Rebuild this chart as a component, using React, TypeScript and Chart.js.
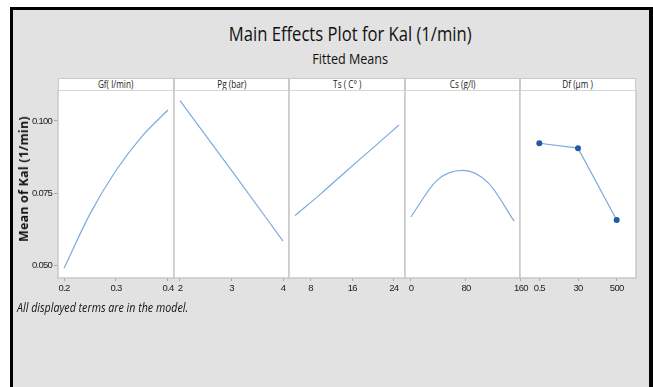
import React, { useEffect, useRef } from "react";
import { Chart, registerables } from "chart.js";

Chart.register(...registerables);

// Fitted means for each factor (response: Kal, 1/min)
const gfX = [0.2, 0.25, 0.3, 0.35, 0.4];
const gfY = [0.0491, 0.0679, 0.0829, 0.0947, 0.1038];
const gfTicks = [0.2, 0.3, 0.4];

const pgX = [2, 3, 4];
const pgY = [0.107, 0.0829, 0.0585];
const pgTicks = [2, 3, 4];

const tsX = [5, 10, 15, 20, 25];
const tsY = [0.0673, 0.0749, 0.0829, 0.0907, 0.0986];
const tsTicks = [8, 16, 24];

const csX = [0, 37.5, 75, 112.5, 150];
const csY = [0.0669, 0.0794, 0.0829, 0.0786, 0.0654];
const csTicks = [0, 80, 160];

const dfLevels = ["0.5", "30", "500"];
const dfY = [0.0923, 0.0906, 0.0658];

const yTicks = [0.05, 0.075, 0.1];
const yMin = 0.04575;
const yMax = 0.1107;

const factorNames = ["Gf( l/min)", "Pg (bar)", "Ts ( C° )", "Cs (g/l)", "Df (μm )"];

const TITLE = "Main Effects Plot for Kal (1/min)";
const SUBTITLE = "Fitted Means";
const Y_TITLE = "Mean of Kal (1/min)";
const FOOTNOTE = "All displayed terms are in the model.";

// layout
const PLOT_LEFT = 58;
const PLOT_RIGHT = 636;
const PLOT_TOP = 90;
const PLOT_BOTTOM = 278;
const HEADER_H = 12;
const AXIS_H = 22;
const SIDE = 16;
const Y_AXIS_W = 48;
const PANEL_W = (PLOT_RIGHT - PLOT_LEFT) / 5;

const LINE_COLOR = "#7eaadf";
const POINT_COLOR = "#1f5ca6";
const FRAME_COLOR = "#c9c9c9";
const TICK_COLOR = "#222";
const TICK_FONT = { family: "'Liberation Sans', Arial, sans-serif", size: 9.5 };

const panelFrame = {
  id: "panelFrame",
  beforeDraw(chart: any) {
    const { ctx, chartArea: a } = chart;
    // tighter tick label spacing
    ctx.letterSpacing = "-0.75px";
    ctx.save();
    ctx.fillStyle = "#ffffff";
    ctx.fillRect(a.left, a.top, a.right - a.left, a.bottom - a.top);
    ctx.restore();
  },
  afterDraw(chart: any) {
    const { ctx, chartArea: a } = chart;
    ctx.save();
    ctx.strokeStyle = FRAME_COLOR;
    ctx.lineWidth = 1.5;
    ctx.strokeRect(a.left, a.top, a.right - a.left, a.bottom - a.top);
    ctx.restore();
  },
};

type PanelDef = {
  kind: "linear" | "category";
  xs?: number[];
  ys: number[];
  ticks?: number[];
  labels?: string[];
};

const panels: PanelDef[] = [
  { kind: "linear", xs: gfX, ys: gfY, ticks: gfTicks },
  { kind: "linear", xs: pgX, ys: pgY, ticks: pgTicks },
  { kind: "linear", xs: tsX, ys: tsY, ticks: tsTicks },
  { kind: "linear", xs: csX, ys: csY, ticks: csTicks },
  { kind: "category", labels: dfLevels, ys: dfY },
];

function edges(i: number) {
  const x0 = Math.round(PLOT_LEFT + i * PANEL_W);
  const x1 = Math.round(PLOT_LEFT + (i + 1) * PANEL_W);
  return [x0, x1];
}

// keep the plot area exactly where the layout puts it
function clearScalePadding(s: any) {
  s.paddingTop = 0;
  s.paddingBottom = 0;
  s.paddingLeft = 0;
  s.paddingRight = 0;
}

function Panel({ index, def }: { index: number; def: PanelDef }) {
  const ref = useRef<HTMLCanvasElement>(null);
  const [x0, x1] = edges(index);
  const first = index === 0;
  const padL = first ? Y_AXIS_W : SIDE;
  const width = x1 - x0 + padL + SIDE;
  const height = PLOT_BOTTOM - PLOT_TOP + AXIS_H;

  useEffect(() => {
    if (!ref.current) return;
    let xScale: any;
    let data: any;
    if (def.kind === "linear") {
      const xs = def.xs!;
      const lo = xs[0];
      const hi = xs[xs.length - 1];
      const pad = (hi - lo) * 0.058;
      xScale = {
        type: "linear",
        min: lo - pad,
        max: hi + pad,
        afterBuildTicks: (s: any) => {
          s.ticks = def.ticks!.map((v) => ({ value: v }));
        },
        ticks: {
          font: TICK_FONT,
          color: TICK_COLOR,
          padding: 2,
          maxRotation: 0,
          autoSkip: false,
          callback: (v: any) => String(v),
        },
      };
      data = {
        datasets: [
          {
            data: xs.map((x, k) => ({ x, y: def.ys[k] })),
            borderColor: LINE_COLOR,
            borderWidth: 1.2,
            pointRadius: 0,
            cubicInterpolationMode: "monotone",
            fill: false,
          },
        ],
      };
    } else {
      xScale = {
        type: "category",
        offset: true,
        ticks: { font: TICK_FONT, color: TICK_COLOR, padding: 2, maxRotation: 0, autoSkip: false },
      };
      data = {
        labels: def.labels,
        datasets: [
          {
            data: def.ys,
            borderColor: LINE_COLOR,
            borderWidth: 1.2,
            pointRadius: 3,
            pointBackgroundColor: POINT_COLOR,
            pointBorderColor: POINT_COLOR,
            pointBorderWidth: 0,
            tension: 0,
            fill: false,
          },
        ],
      };
    }
    Object.assign(xScale, {
      afterFit: (s: any) => {
        s.height = AXIS_H;
        clearScalePadding(s);
      },
      grid: { display: true, drawOnChartArea: false, drawTicks: true, tickLength: 3, color: "#a8a8a8" },
      border: { display: false },
    });

    const yScale: any = {
      display: first,
      min: yMin,
      max: yMax,
      afterBuildTicks: (s: any) => {
        s.ticks = yTicks.map((v) => ({ value: v }));
      },
      afterFit: (s: any) => {
        if (first) s.width = Y_AXIS_W;
        clearScalePadding(s);
      },
      grid: { display: true, drawOnChartArea: false, drawTicks: true, tickLength: 4, color: "#a8a8a8" },
      border: { display: false },
      ticks: {
        font: TICK_FONT,
        color: TICK_COLOR,
        padding: 2,
        callback: (v: any) => Number(v).toFixed(3),
      },
    };

    const chart = new Chart(ref.current, {
      type: "line",
      data,
      options: {
        responsive: false,
        maintainAspectRatio: false,
        animation: false,
        events: [],
        layout: {
          autoPadding: false,
          padding: { left: first ? 0 : SIDE, right: SIDE, top: 0, bottom: 0 },
        },
        plugins: { legend: { display: false }, tooltip: { enabled: false }, title: { display: false } },
        scales: { x: xScale, y: yScale },
      } as any,
      plugins: [panelFrame],
    });
    return () => chart.destroy();
  }, [index, def]);

  return (
    <canvas
      ref={ref}
      width={width}
      height={height}
      style={{ position: "absolute", left: x0 - padL, top: PLOT_TOP, width, height }}
    />
  );
}

export default function App() {
  useEffect(() => {
    document.body.style.margin = "0";
    document.documentElement.style.overflow = "hidden";
  }, []);

  const uiFont = "'Open Sans', 'Noto Sans', sans-serif";

  return (
    <div
      style={{
        position: "fixed",
        left: 0,
        top: 0,
        width: 653,
        height: 387,
        background: "#ffffff",
        overflow: "hidden",
      }}
    >
      {/* framed grey page (open at the bottom edge) */}
      <div
        style={{
          position: "absolute",
          left: 10,
          top: 7,
          width: 643,
          height: 420,
          boxSizing: "border-box",
          borderTop: "3.5px solid #000",
          borderLeft: "3.5px solid #000",
          background: "#e2e2e2",
        }}
      />
      <div style={{ position: "absolute", left: 649, top: 7, width: 4, height: 400, background: "#000" }} />

      <div
        style={{
          position: "absolute",
          left: 0,
          width: 700,
          top: 22,
          textAlign: "center",
          fontFamily: uiFont,
          fontSize: 20,
          color: "#111",
          lineHeight: "24px",
        }}
      >
        <span style={{ display: "inline-block", transform: "scaleX(0.83)" }}>{TITLE}</span>
      </div>
      <div
        style={{
          position: "absolute",
          left: 0,
          width: 700,
          top: 50,
          textAlign: "center",
          fontFamily: uiFont,
          fontSize: 14,
          color: "#111",
          lineHeight: "18px",
        }}
      >
        <span style={{ display: "inline-block", transform: "scaleX(0.9)" }}>{SUBTITLE}</span>
      </div>

      {/* factor header strips */}
      {factorNames.map((name, i) => {
        const [x0, x1] = edges(i);
        return (
          <div
            key={name}
            style={{
              position: "absolute",
              left: x0,
              top: PLOT_TOP - HEADER_H,
              width: x1 - x0,
              height: HEADER_H + 1,
              boxSizing: "border-box",
              border: `1px solid ${FRAME_COLOR}`,
              background: "#ffffff",
              textAlign: "center",
              fontFamily: uiFont,
              fontSize: 10,
              lineHeight: "11px",
              color: "#222",
              whiteSpace: "nowrap",
            }}
          >
            <span style={{ display: "inline-block", transform: "scaleX(0.82)" }}>{name}</span>
          </div>
        );
      })}

      {panels.map((def, i) => (
        <Panel key={i} index={i} def={def} />
      ))}

      <div
        style={{
          position: "absolute",
          left: 23.5,
          top: 179,
          transform: "translate(-50%, -50%) rotate(-90deg)",
          fontFamily: uiFont,
          fontWeight: 700,
          fontSize: 12.3,
          letterSpacing: 0.3,
          lineHeight: "12px",
          color: "#111",
          whiteSpace: "nowrap",
        }}
      >
        {Y_TITLE}
      </div>

      <div
        style={{
          position: "absolute",
          left: 17,
          top: 298,
          fontFamily: uiFont,
          fontStyle: "italic",
          fontSize: 13,
          color: "#111",
          whiteSpace: "nowrap",
          transformOrigin: "left center",
          transform: "scaleX(0.82)",
        }}
      >
        {FOOTNOTE}
      </div>
    </div>
  );
}
